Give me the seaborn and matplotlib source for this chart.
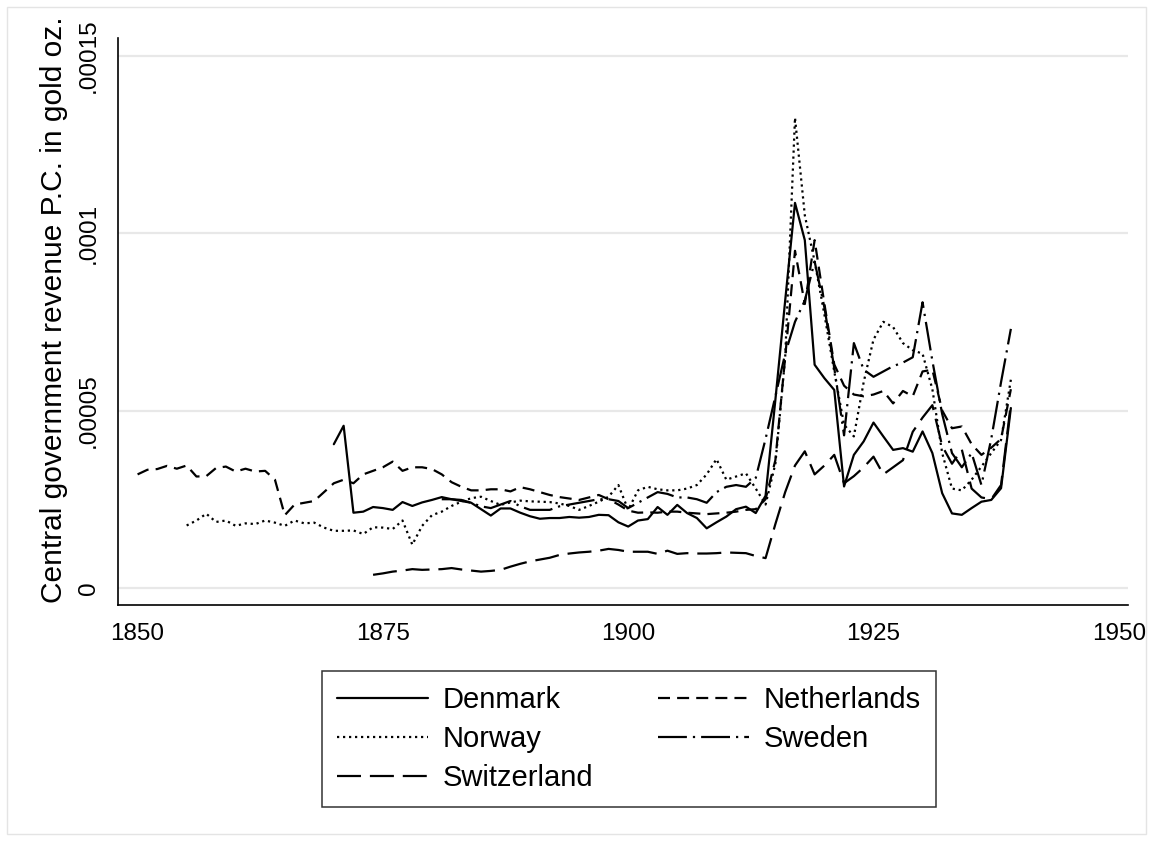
import numpy as np
import pandas as pd
import matplotlib
matplotlib.use("Agg")
import matplotlib.pyplot as plt
from matplotlib.patches import Rectangle
import seaborn as sns

# Central government revenue per capita, in units of 1e-5 troy ounces of gold
netherlands_start = 1850
netherlands = [
    3.20, 3.33, 3.35, 3.44, 3.36, 3.45, 3.14, 3.15, 3.38, 3.42,
    3.28, 3.36, 3.28, 3.30, 3.05, 2.05, 2.35, 2.40, 2.45, 2.70,
    2.95, 3.05, 2.95, 3.20, 3.30, 3.40, 3.56, 3.30, 3.40, 3.40,
    3.35, 3.20, 2.98, 2.85, 2.75, 2.75, 2.78, 2.78, 2.72, 2.84,
    2.78, 2.70, 2.62, 2.56, 2.52, 2.48, 2.55, 2.62, 2.50, 2.35,
    2.18, 2.12, 2.13, 2.12, 2.15, 2.15, 2.12, 2.10, 2.08, 2.10,
    2.12, 2.15, 2.20, 2.22, 2.50, 3.60, 6.50, 9.50, 8.00, 9.80,
    8.00, 6.30, 5.70, 5.45, 5.40, 5.45, 5.55, 5.20, 5.55, 5.40,
    6.10, 6.15, 5.00, 4.50, 4.55, 4.05, 3.75, 3.95, 4.20, 5.60,
]

norway_start = 1855
norway = [
    1.76, 1.90, 2.09, 1.86, 1.90,
    1.75, 1.82, 1.80, 1.90, 1.84, 1.75, 1.90, 1.82, 1.84, 1.70,
    1.61, 1.61, 1.62, 1.52, 1.71, 1.70, 1.66, 1.90, 1.22, 1.75,
    2.05, 2.15, 2.31, 2.43, 2.53, 2.57, 2.45, 2.34, 2.41, 2.46,
    2.44, 2.43, 2.42, 2.38, 2.31, 2.20, 2.31, 2.43, 2.57, 2.90,
    2.20, 2.75, 2.85, 2.78, 2.75, 2.75, 2.80, 2.90, 3.20, 3.63,
    3.05, 3.14, 3.23, 2.80, 2.35, 3.50, 6.50, 13.25, 10.50, 9.20,
    7.70, 6.10, 4.60, 4.27, 5.80, 7.00, 7.50, 7.35, 6.90, 6.70,
    6.60, 5.60, 3.80, 2.80, 2.75, 3.05, 3.42, 3.80, 4.17, 5.87,
]

denmark_start = 1870
denmark = [
    4.05, 4.57, 2.12, 2.15, 2.28, 2.25, 2.20, 2.42, 2.31, 2.41,
    2.48, 2.56, 2.50, 2.48, 2.40, 2.22, 2.04, 2.24, 2.24, 2.12,
    2.02, 1.95, 1.97, 1.97, 2.00, 1.98, 2.00, 2.06, 2.05, 1.85,
    1.73, 1.90, 1.94, 2.28, 2.06, 2.34, 2.11, 1.97, 1.68, 1.85,
    2.01, 2.22, 2.29, 2.11, 2.60, 5.30, 8.10, 10.85, 9.80, 6.29,
    5.91, 5.58, 2.86, 3.75, 4.13, 4.66, 4.27, 3.89, 3.94, 3.84,
    4.41, 3.80, 2.67, 2.10, 2.06, 2.25, 2.43, 2.48, 2.81, 5.07,
]

switzerland_start = 1874
switzerland = [
    0.37, 0.41, 0.46, 0.49, 0.53, 0.51,
    0.52, 0.53, 0.56, 0.52, 0.49, 0.46, 0.48, 0.51, 0.60, 0.68,
    0.75, 0.80, 0.85, 0.93, 0.97, 1.00, 1.02, 1.05, 1.10, 1.07,
    1.02, 1.02, 1.02, 0.96, 1.05, 0.96, 0.98, 0.97, 0.97, 0.98,
    1.00, 0.99, 0.98, 0.90, 0.84, 1.80, 2.70, 3.45, 3.85, 3.20,
    3.45, 3.75, 2.95, 3.15, 3.40, 3.70, 3.20, 3.40, 3.60, 4.40,
    4.80, 5.15, 4.00, 3.50, 3.90, 2.80, 2.55, 2.50, 2.90, 5.20,
]

sweden_start = 1881
sweden = [
    2.50, 2.50, 2.45, 2.40, 2.30, 2.25, 2.35, 2.45, 2.30,
    2.20, 2.20, 2.20, 2.30, 2.35, 2.40, 2.45, 2.50, 2.50, 2.45,
    2.25, 2.40, 2.55, 2.70, 2.65, 2.55, 2.55, 2.50, 2.40, 2.70,
    2.85, 2.90, 2.85, 3.10, 4.20, 5.40, 6.60, 7.50, 8.10, 9.20,
    7.90, 6.20, 4.30, 6.90, 6.15, 5.95, 6.10, 6.25, 6.35, 6.50,
    8.05, 6.40, 4.90, 3.80, 3.40, 3.80, 2.90, 4.20, 5.80, 7.30,
]

series = {
    "Denmark": (denmark_start, denmark),
    "Netherlands": (netherlands_start, netherlands),
    "Norway": (norway_start, norway),
    "Sweden": (sweden_start, sweden),
    "Switzerland": (switzerland_start, switzerland),
}

y_ticks = [0, 5e-5, 1e-4, 1.5e-4]
y_tick_labels = ["0", ".00005", ".0001", ".00015"]
x_ticks = [1850, 1875, 1900, 1925, 1950]

frames = []
for name, (start, vals) in series.items():
    frames.append(pd.DataFrame({
        "year": np.arange(start, start + len(vals)),
        "revenue": np.array(vals) * 1e-5,
        "country": name,
    }))
df = pd.concat(frames, ignore_index=True)

sns.set_theme(style="white")
plt.rcParams["font.family"] = ["Liberation Sans", "DejaVu Sans"]
for key in ("text.color", "axes.labelcolor", "xtick.color", "ytick.color"):
    plt.rcParams[key] = "black"

fig = plt.figure(figsize=(11.53, 8.42), dpi=100)
ax = fig.add_axes([0.1023, 0.2815, 0.8757, 0.6735])

lw = 1.6
dash_styles = {
    "Denmark": "",
    "Netherlands": (5.4, 3.2),
    "Norway": (1.0, 1.7),
    "Sweden": (13.0, 2.7, 1.0, 2.7),
    "Switzerland": (10.8, 4.0),
}

for y in y_ticks:
    ax.axhline(y, color="#e8e8e8", lw=1.6, zorder=0)

sns.lineplot(data=df, x="year", y="revenue", style="country",
             style_order=list(dash_styles.keys()), dashes=dash_styles,
             color="black", linewidth=lw, ax=ax, estimator=None,
             sort=True)

ax.set_xlim(1848, 1950.9)
ax.set_ylim(-0.48e-5, 15.5e-5)
ax.set_xticks(x_ticks)
ax.set_xticklabels([str(x) for x in x_ticks])
ax.set_yticks(y_ticks)
ax.set_yticklabels(y_tick_labels, rotation=90, va="center")
ax.tick_params(axis="both", which="major", direction="out", length=7,
               width=1.2, color="black", labelcolor="black", labelsize=17.5,
               pad=6)
ax.set_xlabel("")
ax.set_ylabel("Central government revenue P.C. in gold oz.", fontsize=21.5)
ax.yaxis.set_label_coords(-0.049, 0.52)
ax.grid(False)
for side in ("top", "right"):
    ax.spines[side].set_visible(False)
for side in ("left", "bottom"):
    ax.spines[side].set_color("black")
    ax.spines[side].set_linewidth(1.2)

handles, labels = ax.get_legend_handles_labels()
lookup = dict(zip(labels, handles))
order = ["Denmark", "Norway", "Switzerland", "Netherlands", "Sweden"]
leg = ax.legend([lookup[k] for k in order], order, ncol=2,
                loc="upper left", bbox_to_anchor=(0.2793, 0.2031),
                bbox_transform=fig.transFigure, borderaxespad=0,
                fontsize=21, frameon=True, fancybox=False,
                edgecolor="black", handlelength=3.1, handletextpad=0.5,
                columnspacing=2.25, labelspacing=0.38, borderpad=0.52)
leg.get_frame().set_linewidth(1.1)
for h in leg.get_lines():
    h.set_linewidth(lw)

# thin outline around the whole graph region
fig.patches.append(Rectangle((7 / 1153, 8 / 842), 1139 / 1153, 827 / 842,
                             transform=fig.transFigure, fill=False,
                             edgecolor="#e4e4e4", lw=1.0))

fig.savefig("out.png", dpi=100)
